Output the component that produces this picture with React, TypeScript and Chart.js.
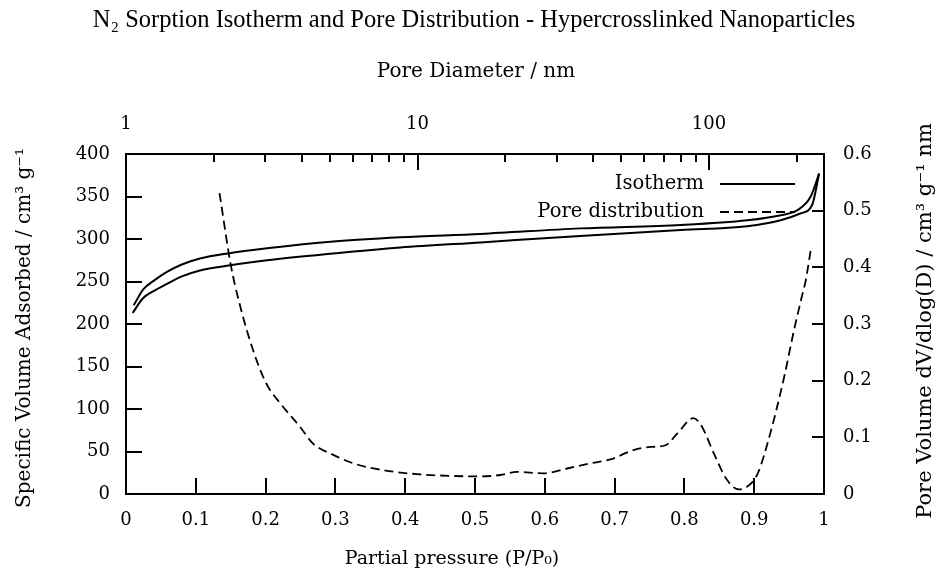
import React, { useEffect, useRef } from 'react';
import { Chart, registerables } from 'chart.js';

Chart.register(...registerables);

// ---- Data ----
// Isotherm, adsorption branch (lower curve)
const adsorptionP = [0.0096, 0.024, 0.04, 0.058, 0.08, 0.106, 0.149, 0.202, 0.297, 0.393, 0.508, 0.651, 0.795, 0.89, 0.938, 0.966, 0.983, 0.993];
const adsorptionV = [213, 230, 239, 247, 256, 263, 269, 275, 283, 290, 296, 303.5, 310.5, 315, 322, 330, 340, 377];
// Isotherm, desorption branch (upper curve)
const desorptionP = [0.011, 0.025, 0.04, 0.058, 0.08, 0.106, 0.146, 0.202, 0.297, 0.393, 0.508, 0.651, 0.795, 0.89, 0.938, 0.962, 0.981, 0.993];
const desorptionV = [222, 241, 251, 261, 270, 277, 283, 289, 297, 302, 306, 312.5, 316.5, 322, 328, 334, 350, 377];
// Pore distribution (right axis)
const poreP = [0.134, 0.15, 0.162, 0.182, 0.201, 0.221, 0.249, 0.268, 0.297, 0.326, 0.369, 0.417, 0.464, 0.51, 0.536, 0.56, 0.598, 0.632, 0.665, 0.694, 0.728, 0.752, 0.773, 0.79, 0.813, 0.825, 0.842, 0.861, 0.878, 0.89, 0.905, 0.923, 0.943, 0.957, 0.967, 0.974, 0.981];
const poreV = [0.531, 0.405, 0.339, 0.254, 0.195, 0.16, 0.119, 0.089, 0.069, 0.054, 0.042, 0.035, 0.032, 0.031, 0.0335, 0.039, 0.0365, 0.045, 0.054, 0.061, 0.078, 0.083, 0.086, 0.107, 0.134, 0.119, 0.072, 0.025, 0.008, 0.013, 0.036, 0.107, 0.207, 0.289, 0.342, 0.378, 0.431];

// Top (pore diameter) axis ticks
const poreDiameterTicks = [1, 2, 3, 4, 5, 6, 7, 8, 9, 10, 20, 30, 40, 50, 60, 70, 80, 90, 100, 200];
const poreDiameterLabels = [1, 10, 100];

// Texts
const TITLE = 'N\u2082 Sorption Isotherm and Pore Distribution - Hypercrosslinked Nanoparticles';
const X_LABEL = 'Partial pressure (P/P\u2080)';
const X2_LABEL = 'Pore Diameter / nm';
const Y_LABEL = 'Specific Volume Adsorbed / cm\u00B3 g\u207B\u00B9';
const Y2_LABEL = 'Pore Volume dV/dlog(D) / cm\u00B3 g\u207B\u00B9 nm';
const ISO_LABEL = 'Isotherm';
const PORE_LABEL = 'Pore distribution';

const SERIF = '"DejaVu Serif", serif';
const TITLE_FONT = '"Liberation Serif", serif';

const toPoints = (xs: number[], ys: number[]) => xs.map((x, i) => ({ x, y: ys[i] }));
const fmt = (v: any) => String(Math.round(Number(v) * 100) / 100);

const gnuplotFrame = {
  id: 'gnuplotFrame',
  afterDraw(chart: any) {
    const { ctx, chartArea: a, scales } = chart;
    ctx.save();
    ctx.strokeStyle = '#000';
    ctx.fillStyle = '#000';
    ctx.setLineDash([]);
    ctx.lineWidth = 2;
    ctx.strokeRect(a.left, a.top, a.right - a.left, a.bottom - a.top);

    ctx.beginPath();
    scales.x.ticks.forEach((t: any) => {
      const px = Math.round(scales.x.getPixelForValue(t.value));
      ctx.moveTo(px, a.bottom);
      ctx.lineTo(px, a.bottom - 16);
    });
    scales.y.ticks.forEach((t: any) => {
      const py = Math.round(scales.y.getPixelForValue(t.value));
      ctx.moveTo(a.left, py);
      ctx.lineTo(a.left + 16, py);
    });
    scales.y2.ticks.forEach((t: any) => {
      const py = Math.round(scales.y2.getPixelForValue(t.value));
      ctx.moveTo(a.right, py);
      ctx.lineTo(a.right - 12, py);
    });
    scales.x2.ticks.forEach((t: any) => {
      const px = Math.round(scales.x2.getPixelForValue(t.value));
      const len = poreDiameterLabels.includes(t.value) ? 16 : 8;
      ctx.moveTo(px, a.top);
      ctx.lineTo(px, a.top + len);
    });
    ctx.stroke();

    // Titles
    ctx.textAlign = 'center';
    ctx.textBaseline = 'middle';
    ctx.font = `24.5px ${TITLE_FONT}`;
    ctx.fillText(TITLE, 474, 21);
    ctx.font = `20px ${SERIF}`;
    ctx.fillText(X2_LABEL, 476, 72);
    ctx.font = `19px ${SERIF}`;
    ctx.fillText(X_LABEL, 452, 559);

    ctx.font = `20px ${SERIF}`;
    ctx.save();
    ctx.translate(25, 328);
    ctx.rotate(-Math.PI / 2);
    ctx.fillText(Y_LABEL, 0, 0);
    ctx.restore();

    ctx.font = `21px ${SERIF}`;
    ctx.save();
    ctx.translate(926, 321);
    ctx.rotate(-Math.PI / 2);
    ctx.fillText(Y2_LABEL, 0, 0);
    ctx.restore();

    // Legend (gnuplot style: text right-aligned, sample line to the right)
    const ds = chart.data.datasets;
    const items = [ds[0], ds[2]];
    const rowsY = [184, 212];
    ctx.textAlign = 'right';
    ctx.font = `19.5px ${SERIF}`;
    items.forEach((d: any, i: number) => {
      const y = rowsY[i];
      ctx.fillText(d.label, 704, y);
      ctx.beginPath();
      ctx.lineWidth = d.borderWidth;
      ctx.setLineDash(d.borderDash || []);
      ctx.moveTo(720, y);
      ctx.lineTo(795, y);
      ctx.stroke();
    });
    ctx.restore();
  },
};

export default function App() {
  const canvasRef = useRef<HTMLCanvasElement | null>(null);

  useEffect(() => {
    const canvas = canvasRef.current;
    if (!canvas) return;
    Chart.defaults.font.family = SERIF;
    Chart.defaults.color = '#000';

    const chart = new Chart(canvas, {
      type: 'line',
      data: {
        datasets: [
          {
            label: ISO_LABEL,
            data: toPoints(adsorptionP, adsorptionV),
            borderColor: '#000',
            borderWidth: 2,
            pointRadius: 0,
            cubicInterpolationMode: 'monotone',
            fill: false,
            xAxisID: 'x',
            yAxisID: 'y',
          },
          {
            label: ISO_LABEL + ' (desorption)',
            data: toPoints(desorptionP, desorptionV),
            borderColor: '#000',
            borderWidth: 2,
            pointRadius: 0,
            cubicInterpolationMode: 'monotone',
            fill: false,
            xAxisID: 'x',
            yAxisID: 'y',
          },
          {
            label: PORE_LABEL,
            data: toPoints(poreP, poreV),
            borderColor: '#000',
            borderWidth: 1.8,
            borderDash: [9, 5],
            pointRadius: 0,
            cubicInterpolationMode: 'monotone',
            fill: false,
            xAxisID: 'x',
            yAxisID: 'y2',
          },
        ],
      },
      options: {
        responsive: false,
        animation: false,
        layout: { padding: 0 },
        plugins: {
          legend: { display: false },
          title: { display: false },
          tooltip: { enabled: false },
        },
        scales: {
          x: {
            type: 'linear',
            position: 'bottom',
            min: 0,
            max: 1,
            grid: { display: false, drawTicks: false },
            border: { display: false },
            ticks: { stepSize: 0.1, padding: 16, maxRotation: 0, font: { size: 18 }, color: '#000', callback: fmt },
            afterFit: (s: any) => { s.height = 83; },
          },
          x2: {
            type: 'logarithmic',
            position: 'top',
            min: 1,
            max: 248,
            grid: { display: false, drawTicks: false },
            border: { display: false },
            afterBuildTicks: (s: any) => {
              s.ticks = poreDiameterTicks.map((v) => ({ value: v, major: poreDiameterLabels.includes(v) }));
            },
            ticks: {
              autoSkip: false,
              maxRotation: 0,
              padding: 19,
              font: { size: 18 },
              color: '#000',
              callback: (v: any) => (poreDiameterLabels.includes(Number(v)) ? String(v) : ''),
            },
            afterFit: (s: any) => { s.height = 154; },
          },
          y: {
            type: 'linear',
            position: 'left',
            min: 0,
            max: 400,
            grid: { display: false, drawTicks: false },
            border: { display: false },
            ticks: { stepSize: 50, padding: 16, font: { size: 18 }, color: '#000' },
            afterFit: (s: any) => { s.width = 126; },
          },
          y2: {
            type: 'linear',
            position: 'right',
            min: 0,
            max: 0.6,
            grid: { display: false, drawTicks: false },
            border: { display: false },
            ticks: { stepSize: 0.1, padding: 19, font: { size: 18 }, color: '#000', callback: fmt },
            afterFit: (s: any) => { s.width = 112; },
          },
        },
      } as any,
      plugins: [gnuplotFrame],
    });

    return () => chart.destroy();
  }, []);

  return (
    <div style={{ position: 'absolute', left: 0, top: 0, width: 936, height: 577, background: '#fff' }}>
      <canvas ref={canvasRef} width={936} height={577} style={{ display: 'block' }} />
    </div>
  );
}
